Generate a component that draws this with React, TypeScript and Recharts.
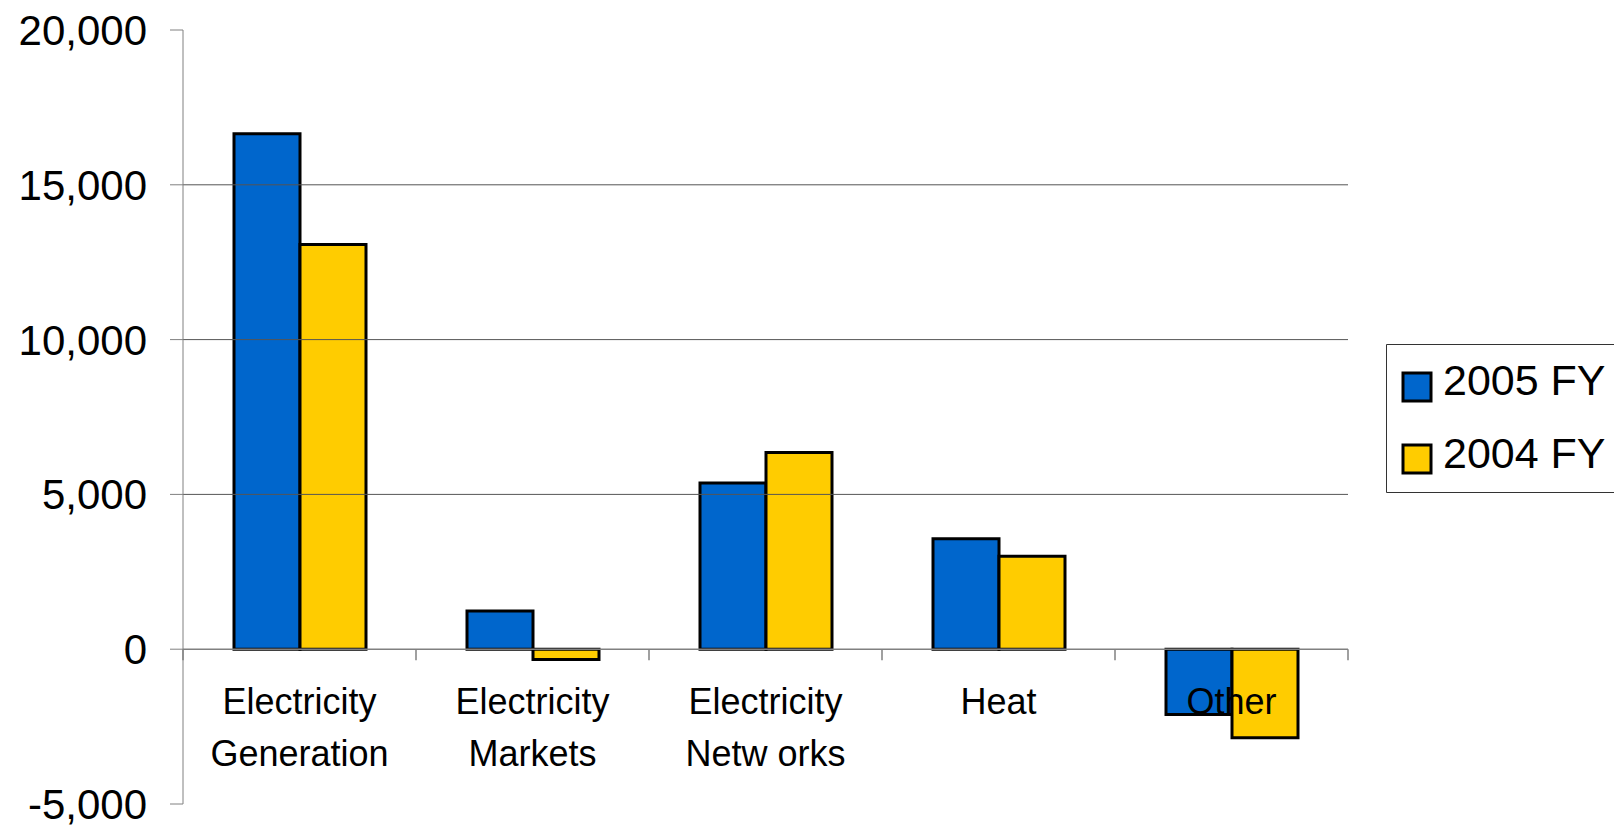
import {
  BarChart,
  Bar,
  XAxis,
  YAxis,
  ReferenceLine,
  Legend,
} from "recharts";

const categories = [
  ["Electricity", "Generation"],
  ["Electricity", "Markets"],
  ["Electricity", "Netw orks"],
  ["Heat"],
  ["Other"],
];
const fy2005 = [16650, 1235, 5365, 3570, -2110];
const fy2004 = [13070, -330, 6355, 3000, -2860];
const yTicks = [-5000, 0, 5000, 10000, 15000, 20000];
const gridValues = [5000, 10000, 15000];

const BLUE = "#0066CC";
const YELLOW = "#FFCC00";
const AXIS = "#808080";
const FONT = '"Liberation Sans", Arial, sans-serif';

const W = 1614;
const H = 825;
const M = { top: 30, right: 266, bottom: 0, left: 0 };
const X_AXIS_H = 21;
const Y_AXIS_W = 183;
const PLOT_W = W - M.left - M.right - Y_AXIS_W;
const PLOT_H = H - M.top - M.bottom - X_AXIS_H;
const Y_MIN = -5000;
const Y_MAX = 20000;
const ZERO_Y = M.top + (PLOT_H * Y_MAX) / (Y_MAX - Y_MIN);
const BAND = PLOT_W / categories.length;

const data = categories.map((lines, i) => ({
  name: lines.join(" "),
  lines,
  fy2005: fy2005[i],
  fy2004: fy2004[i],
}));

// category labels hang below the zero line, not the bottom of the plot
function CategoryTick(props: any) {
  const { x, index } = props;
  const lines: string[] = data[index]?.lines ?? [];
  const last = index === data.length - 1;
  return (
    <g>
      <line x1={x - BAND / 2} x2={x - BAND / 2} y1={ZERO_Y} y2={ZERO_Y + 11} stroke={AXIS} strokeWidth={1.5} />
      {last && (
        <line x1={x + BAND / 2} x2={x + BAND / 2} y1={ZERO_Y} y2={ZERO_Y + 11} stroke={AXIS} strokeWidth={1.5} />
      )}
      <text textAnchor="middle" fontSize={36} fontFamily={FONT} fill="#000">
        {lines.map((l, i) => (
          <tspan key={i} x={x} y={ZERO_Y + 65 + i * 52}>
            {l}
          </tspan>
        ))}
      </text>
    </g>
  );
}

function LegendBox() {
  const items = [
    { label: "2005 FY", color: BLUE },
    { label: "2004 FY", color: YELLOW },
  ];
  return (
    <svg width={228} height={149} style={{ display: "block" }}>
      <path d="M228,0.5 H0.5 V148.5 H228" fill="none" stroke="#333" strokeWidth={1} />
      {items.map((it, i) => (
        <g key={it.label}>
          <rect x={17} y={29 + i * 72} width={28} height={28} fill={it.color} stroke="#000" strokeWidth={3} />
          <text x={57} y={51 + i * 73} fontSize={43} fontFamily={FONT} fill="#000">
            {it.label}
          </text>
        </g>
      ))}
    </svg>
  );
}

export default function App() {
  return (
    <div style={{ position: "absolute", left: 0, top: 0, width: W, height: H, background: "#fff" }}>
      <BarChart width={W} height={H} data={data} margin={M} barGap={0} barSize={66}>
        <YAxis
          width={Y_AXIS_W}
          domain={[Y_MIN, Y_MAX]}
          ticks={yTicks}
          interval={0}
          stroke={AXIS}
          tickSize={13}
          tickMargin={23}
          tick={{ fontSize: 42, fontFamily: FONT, fill: "#000" }}
          tickFormatter={(v: number) => v.toLocaleString("en-US")}
        />
        {gridValues.map((v) => (
          <ReferenceLine key={v} y={v} stroke="#555" strokeWidth={1} />
        ))}
        <ReferenceLine y={0} stroke={AXIS} strokeWidth={1.5} />
        <Bar dataKey="fy2005" name="2005 FY" fill={BLUE} stroke="#000" strokeWidth={3} isAnimationActive={false} />
        <Bar dataKey="fy2004" name="2004 FY" fill={YELLOW} stroke="#000" strokeWidth={3} isAnimationActive={false} />
        <XAxis
          dataKey="name"
          height={X_AXIS_H}
          axisLine={false}
          tickLine={false}
          interval={0}
          tick={<CategoryTick />}
        />
        <Legend
          layout="vertical"
          align="center"
          verticalAlign="middle"
          content={() => <LegendBox />}
          wrapperStyle={{ left: 1386, top: 344, width: 228, height: 149 }}
        />
      </BarChart>
    </div>
  );
}
